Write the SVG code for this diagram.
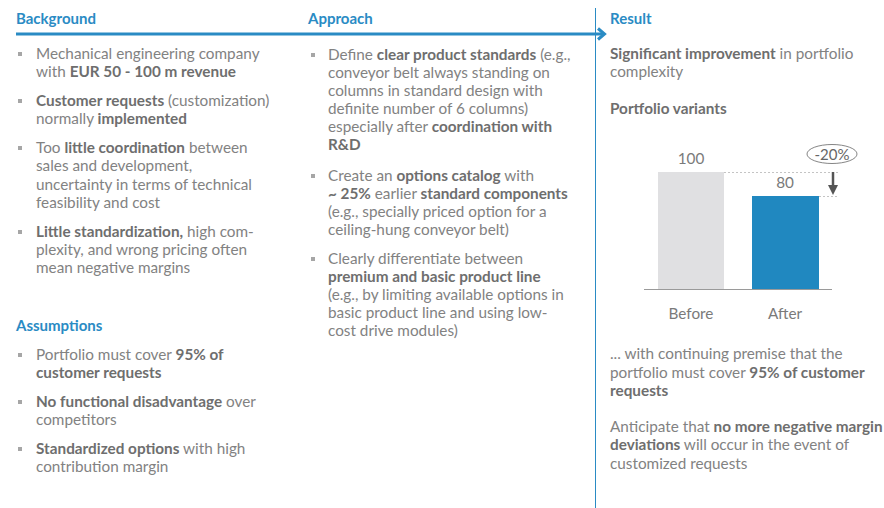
<svg xmlns="http://www.w3.org/2000/svg" width="884" height="508" viewBox="0 0 884 508">
<style>
text{font-family:Lato,"Noto Sans","Liberation Sans",sans-serif;font-size:15.3px;fill:#828282}
.h{font-weight:bold;fill:#2a8bc4;font-size:15px}
.b{font-weight:bold;fill:#6e6e6e}
.bul{fill:#a6a6a6}
.val{font-size:15.3px;fill:#7a7a7a}
.pct{font-size:15px;fill:#666}
</style>
<rect width="884" height="508" fill="#ffffff"/>
<g id="connectors">
<line x1="16" y1="34" x2="603" y2="34" stroke="#2a8bc4" stroke-width="3"/>
<polyline points="598,28.5 604.5,34 598,39.5" fill="none" stroke="#2a8bc4" stroke-width="3"/>
<line x1="595.5" y1="8" x2="595.5" y2="508" stroke="#2a8bc4" stroke-width="1"/>
</g>
<g id="background">
<text class="h" x="16" y="24">Background</text>
<rect class="bul" x="18" y="52" width="4" height="4"/>
<text x="36" y="59">Mechanical engineering company</text>
<text x="36" y="77">with <tspan class="b">EUR 50 - 100 m revenue</tspan></text>
<rect class="bul" x="18" y="99" width="4" height="4"/>
<text x="36" y="106"><tspan class="b">Customer requests</tspan> (customization)</text>
<text x="36" y="124">normally <tspan class="b">implemented</tspan></text>
<rect class="bul" x="18" y="146" width="4" height="4"/>
<text x="36" y="153">Too <tspan class="b">little coordination</tspan> between</text>
<text x="36" y="171">sales and development,</text>
<text x="36" y="190">uncertainty in terms of technical</text>
<text x="36" y="208">feasibility and cost</text>
<rect class="bul" x="18" y="230" width="4" height="4"/>
<text x="36" y="237"><tspan class="b">Little standardization,</tspan> high com-</text>
<text x="36" y="255">plexity, and wrong pricing often</text>
<text x="36" y="273">mean negative margins</text>
</g>
<g id="assumptions">
<text class="h" x="16" y="331">Assumptions</text>
<rect class="bul" x="18" y="353" width="4" height="4"/>
<text x="36" y="360">Portfolio must cover <tspan class="b">95% of</tspan></text>
<text x="36" y="378" class="b">customer requests</text>
<rect class="bul" x="18" y="400" width="4" height="4"/>
<text x="36" y="407"><tspan class="b">No functional disadvantage</tspan> over</text>
<text x="36" y="425">competitors</text>
<rect class="bul" x="18" y="447" width="4" height="4"/>
<text x="36" y="454"><tspan class="b">Standardized options</tspan> with high</text>
<text x="36" y="472">contribution margin</text>
</g>
<g id="approach">
<text class="h" x="308" y="24">Approach</text>
<rect class="bul" x="311" y="53" width="4" height="4"/>
<text x="328" y="60">Define <tspan class="b">clear product standards</tspan> (e.g.,</text>
<text x="328" y="78">conveyor belt always standing on</text>
<text x="328" y="96">columns in standard design with</text>
<text x="328" y="114">definite number of 6 columns)</text>
<text x="328" y="132">especially after <tspan class="b">coordination with</tspan></text>
<text x="328" y="150" class="b">R&amp;D</text>
<rect class="bul" x="311" y="174" width="4" height="4"/>
<text x="328" y="181">Create an <tspan class="b">options catalog</tspan> with</text>
<text x="328" y="199"><tspan class="b">~ 25%</tspan> earlier <tspan class="b">standard components</tspan></text>
<text x="328" y="217">(e.g., specially priced option for a</text>
<text x="328" y="235">ceiling-hung conveyor belt)</text>
<rect class="bul" x="311" y="257" width="4" height="4"/>
<text x="328" y="264">Clearly differentiate between</text>
<text x="328" y="282" class="b">premium and basic product line</text>
<text x="328" y="300">(e.g., by limiting available options in</text>
<text x="328" y="318">basic product line and using low-</text>
<text x="328" y="336">cost drive modules)</text>
</g>
<g id="result">
<text class="h" x="610" y="24">Result</text>
<text x="610" y="59"><tspan class="b">Significant improvement</tspan> in portfolio</text>
<text x="610" y="77">complexity</text>
<text x="610" y="114" class="b">Portfolio variants</text>
</g>
<g id="chart">
<rect x="658" y="172" width="66" height="117" fill="#e0e0e2"/>
<rect x="752" y="196" width="67" height="93" fill="#2088c0"/>
<line x1="644" y1="289.5" x2="832" y2="289.5" stroke="#9a9a9a" stroke-width="1"/>
<line x1="724" y1="172.5" x2="839" y2="172.5" stroke="#b5b5b5" stroke-width="0.8" stroke-dasharray="2,2"/>
<line x1="819" y1="196.5" x2="839" y2="196.5" stroke="#b5b5b5" stroke-width="0.8" stroke-dasharray="2,2"/>
<line x1="833" y1="172" x2="833" y2="186" stroke="#555" stroke-width="2.5"/>
<polygon points="828,185 838,185 833,195" fill="#555"/>
<ellipse cx="832" cy="154" rx="25" ry="9.5" fill="#fff" stroke="#666" stroke-width="0.8"/>
<text class="pct" x="832" y="159.5" text-anchor="middle">-20%</text>
<text class="val" x="691" y="164" text-anchor="middle">100</text>
<text class="val" x="785" y="188" text-anchor="middle">80</text>
<text class="val" x="691" y="319" text-anchor="middle">Before</text>
<text class="val" x="785" y="319" text-anchor="middle">After</text>
</g>
<g id="result-notes">
<text x="610" y="359">... with continuing premise that the</text>
<text x="610" y="378">portfolio must cover <tspan class="b">95% of customer</tspan></text>
<text x="610" y="396" class="b">requests</text>
<text x="610" y="432">Anticipate that <tspan class="b">no more negative margin</tspan></text>
<text x="610" y="450"><tspan class="b">deviations</tspan> will occur in the event of</text>
<text x="610" y="469">customized requests</text>
</g>
</svg>
